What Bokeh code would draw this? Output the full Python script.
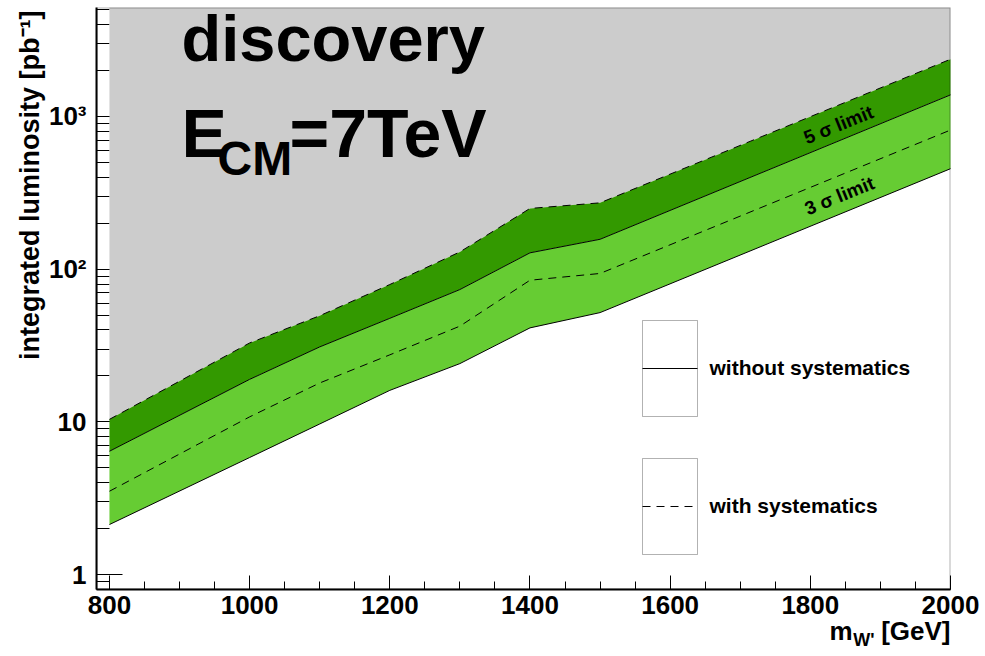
import math

from bokeh.core.properties import value
from bokeh.embed import file_html
from bokeh.models import (Arrow, BoxAnnotation, ColumnDataSource, FixedTicker,
                          Label, Range1d, Title)
from bokeh.plotting import figure
from bokeh.resources import INLINE

# W' mass points [GeV]
mass = [800, 1000, 1100, 1200, 1300, 1400, 1500, 2000]

# integrated luminosity [pb^-1] needed for a discovery
lumi_5sigma_syst = [10.4, 32.9, 49.6, 79.4, 129.8, 250.0, 272.0, 2370.0]
lumi_5sigma_nosyst = [6.43, 19.0, 31.0, 47.7, 73.6, 128.0, 157.0, 1385.0]
lumi_3sigma_syst = [3.52, 10.8, 18.0, 27.5, 42.4, 84.7, 93.8, 815.0]
lumi_3sigma_nosyst = [2.13, 5.85, 9.7, 16.1, 24.1, 41.3, 52.0, 455.0]

x_ticks = [800, 1000, 1200, 1400, 1600, 1800, 2000]
y_ticks = [1, 10, 100, 1000]
y_tick_labels = {1: "1", 10: "10", 100: "10²", 1000: "10³"}

legend_labels = ["without systematics", "with systematics"]

X_MIN, X_MAX = 781.5, 2000
Y_MIN, Y_MAX = 0.8, 5170

FONT = "Liberation Sans"
GRAY = "#cccccc"
DARK_GREEN = "#339900"
LIGHT_GREEN = "#66cc33"
DASH = "8 6"

# frame edges in canvas pixels
FRAME_L, FRAME_R, FRAME_T, FRAME_B = 96, 950, 7, 589

p = figure(width=985, height=656,
           x_range=Range1d(X_MIN, X_MAX), y_range=Range1d(Y_MIN, Y_MAX),
           y_axis_type="log", output_backend="svg", toolbar_location=None,
           min_border_left=FRAME_L, min_border_right=985 - FRAME_R,
           min_border_top=FRAME_T, min_border_bottom=656 - FRAME_B,
           background_fill_color="white", border_fill_color="white")
p.outline_line_color = None
p.xgrid.grid_line_color = None
p.ygrid.grid_line_color = None

src = ColumnDataSource(dict(
    m=mass,
    s5=lumi_5sigma_syst,
    n5=lumi_5sigma_nosyst,
    s3=lumi_3sigma_syst,
    n3=lumi_3sigma_nosyst,
    top=[Y_MAX] * len(mass),
))

# filled bands (drawn above the inward tick marks)
p.varea(x="m", y1="s5", y2="top", source=src, fill_color=GRAY, level="annotation")
p.varea(x="m", y1="n5", y2="s5", source=src, fill_color=DARK_GREEN, level="annotation")
p.varea(x="m", y1="n3", y2="n5", source=src, fill_color=LIGHT_GREEN, level="annotation")

# limit curves
p.line("m", "s5", source=src, line_color="black", line_width=1,
       line_dash=DASH, level="annotation")
p.line("m", "n5", source=src, line_color="black", line_width=1,
       level="annotation")
p.line("m", "s3", source=src, line_color="black", line_width=1,
       line_dash=DASH, level="annotation")
p.line("m", "n3", source=src, line_color="black", line_width=1,
       level="annotation")

# axes
xa = p.xaxis[0]
xa.ticker = FixedTicker(ticks=x_ticks, minor_ticks=list(range(800, 2001, 50)))
ya = p.yaxis[0]
ya.ticker = FixedTicker(
    ticks=y_ticks,
    minor_ticks=[k * 10 ** e for e in range(-1, 4) for k in range(2, 10)])
ya.major_label_overrides = y_tick_labels

for ax in (xa, ya):
    ax.axis_line_color = "black"
    ax.axis_line_width = 2
    ax.major_tick_line_color = "black"
    ax.minor_tick_line_color = "black"
    ax.major_tick_line_width = 1
    ax.minor_tick_line_width = 1
    ax.major_tick_out = 0
    ax.minor_tick_out = 0
    ax.major_label_text_font = FONT
    ax.major_label_text_font_style = "bold"
    ax.major_label_text_font_size = "26px"
    ax.major_label_text_color = "black"

xa.major_tick_in = 14
xa.minor_tick_in = 8
xa.major_label_standoff = 6
ya.major_tick_in = 26
ya.minor_tick_in = 13
ya.major_label_standoff = 10

# frame
p.add_layout(BoxAnnotation(fill_alpha=0, line_color="black", line_width=2,
                           level="overlay"))

# y axis title, placed at the top end of the axis
p.add_layout(Title(text="integrated luminosity [pb⁻¹]", align="right",
                   text_font=FONT, text_font_style="bold",
                   text_font_size="27px", text_color="black",
                   offset=3, standoff=2), "left")

# shift from the wanted baseline to the y handed to the text
BASE_SHIFT = 0.37


def sx(cx):
    return cx - FRAME_L


def sy(cy):
    return FRAME_B - cy


def data_x(cx):
    return X_MIN + (cx - FRAME_L) * (X_MAX - X_MIN) / (FRAME_R - FRAME_L)


def data_y(cy):
    lo, hi = math.log10(Y_MIN), math.log10(Y_MAX)
    return 10 ** (lo + (FRAME_B - cy) * (hi - lo) / (FRAME_B - FRAME_T))


def text(cx, cy, s, size, align="left", angle=0.0):
    """Bold label with its baseline at canvas pixel (cx, cy)."""
    p.add_layout(Label(
        x=sx(cx), y=sy(cy) + BASE_SHIFT * size,
        x_units="screen", y_units="screen",
        text=s, text_font=FONT, text_font_style="bold",
        text_font_size=f"{size}px", text_align=align,
        text_baseline="alphabetic", angle=angle, text_color="black",
        level="overlay"))


def glyph_text(cx, cy, s, size, align="left"):
    """Bold text glyph (not clipped to the frame) with baseline at (cx, cy)."""
    p.text(x=[data_x(cx)], y=[data_y(cy - BASE_SHIFT * size)], text=[s],
           text_font=value(FONT), text_font_style="bold",
           text_font_size=f"{size}px", text_align=align,
           text_baseline="alphabetic", text_color="black", level="overlay")


# headline
glyph_text(181, 62, "discovery", 65)
glyph_text(181, 158, "E", 68)
glyph_text(217, 176, "CM", 48)
glyph_text(289, 158, "=7TeV", 68)

# curve labels
ang = math.radians(22)
text(804, 145, "5 σ limit", 19, angle=ang)
text(805, 216, "3 σ limit", 19, angle=ang)

# x axis title
glyph_text(950, 640, "[GeV]", 26, align="right")
glyph_text(874, 646, "W'", 18, align="right")
glyph_text(852, 640, "m", 26, align="right")

# legend: open boxes with the line style drawn across them
BOX_L, BOX_R = 642, 697
boxes = [(320, 416, None), (458, 554, DASH)]
for (top, bottom, dash), lab in zip(boxes, legend_labels):
    p.add_layout(BoxAnnotation(left=sx(BOX_L), right=sx(BOX_R),
                               top=sy(top), bottom=sy(bottom),
                               left_units="screen", right_units="screen",
                               top_units="screen", bottom_units="screen",
                               fill_color="white", fill_alpha=1,
                               line_color="black", line_width=1,
                               level="overlay"))
    mid = sy((top + bottom) / 2)
    arrow_kw = dict(line_dash=dash) if dash else {}
    p.add_layout(Arrow(end=None, x_start=sx(BOX_L), y_start=mid,
                       x_end=sx(BOX_R), y_end=mid,
                       start_units="screen", end_units="screen",
                       line_color="black", line_width=1, level="overlay",
                       **arrow_kw))
    text(709, (top + bottom) / 2 + 7, lab, 21)

open("out.html", "w").write(file_html(p, INLINE))
